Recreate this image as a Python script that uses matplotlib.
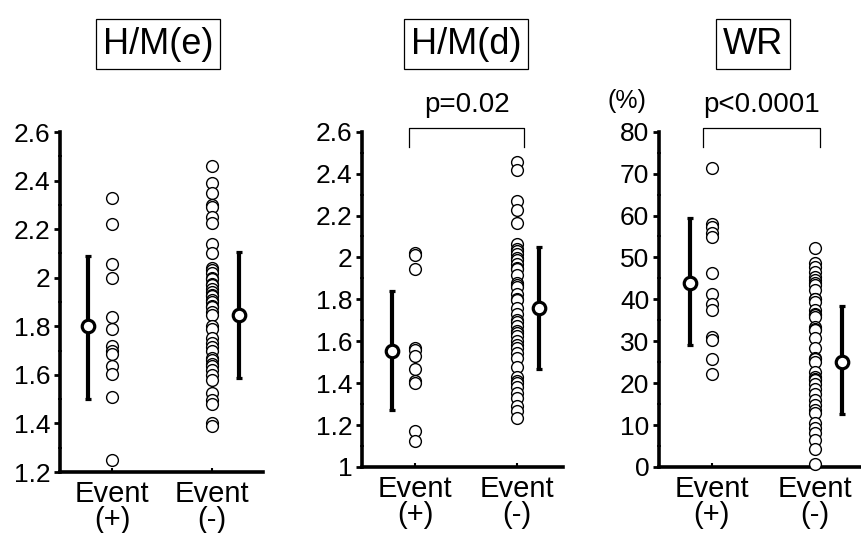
import matplotlib
matplotlib.use("Agg")
import matplotlib.pyplot as plt
from matplotlib.ticker import MultipleLocator

plt.rcParams['font.family'] = ['Liberation Sans', 'DejaVu Sans']

# ---------------- data ----------------
groups = ["Event\n(+)", "Event\n(-)"]
titles = ["H/M(e)", "H/M(d)", "WR"]

hme_pos = [2.33, 2.22, 2.055, 2.0, 1.84, 1.79, 1.72, 1.70, 1.685, 1.635, 1.605, 1.51, 1.25]
hme_neg = [2.46, 2.39, 2.35, 2.30, 2.29, 2.25, 2.225, 2.14, 2.10, 2.04, 2.03, 2.02, 2.0, 1.995,
           1.975, 1.97, 1.955, 1.94, 1.93, 1.925, 1.91, 1.90, 1.885, 1.88, 1.86, 1.845, 1.80,
           1.79, 1.75, 1.73, 1.715, 1.70, 1.67, 1.66, 1.645, 1.635, 1.62, 1.60, 1.58, 1.525,
           1.495, 1.48, 1.40, 1.39]
hme_mean = [1.80, 1.845]
hme_sd_lo = [1.50, 1.585]
hme_sd_hi = [2.09, 2.105]

hmd_pos = [2.02, 2.013, 1.946, 1.57, 1.56, 1.53, 1.47, 1.41, 1.40, 1.17, 1.125]
hmd_neg = [2.455, 2.415, 2.27, 2.225, 2.165, 2.065, 2.04, 2.03, 2.017, 1.995, 1.99, 1.97,
           1.95, 1.945, 1.915, 1.88, 1.87, 1.86, 1.825, 1.80, 1.795, 1.76, 1.73, 1.70, 1.69,
           1.675, 1.65, 1.64, 1.625, 1.60, 1.58, 1.57, 1.545, 1.52, 1.475, 1.43, 1.41, 1.40,
           1.38, 1.355, 1.33, 1.29, 1.265, 1.235]
hmd_mean = [1.555, 1.76]
hmd_sd_lo = [1.27, 1.47]
hmd_sd_hi = [1.84, 2.05]

wr_pos = [71.3, 58.0, 57.2, 55.9, 54.9, 46.4, 41.2, 38.9, 37.4, 31.1, 30.3, 25.7, 22.2]
wr_neg = [52.2, 48.7, 47.8, 46.6, 45.4, 44.6, 44.0, 43.4, 42.2, 40.2, 40.0, 39.4, 37.4, 36.5,
          36.2, 35.8, 33.5, 33.0, 32.7, 30.7, 28.3, 26.0, 25.7, 25.1, 22.7, 21.5, 21.0, 20.7,
          19.9, 18.7, 17.5, 15.9, 14.8, 13.6, 13.0, 10.4, 9.2, 8.0, 6.4, 4.4, 0.7]
wr_mean = [44.0, 25.1]
wr_sd_lo = [29.2, 12.6]
wr_sd_hi = [59.3, 38.5]

p_texts = [None, "p=0.02", "p<0.0001"]

yticks_list = [[1.2, 1.4, 1.6, 1.8, 2.0, 2.2, 2.4, 2.6],
               [1.0, 1.2, 1.4, 1.6, 1.8, 2.0, 2.2, 2.4, 2.6],
               [0, 10, 20, 30, 40, 50, 60, 70, 80]]
ytick_labels = [["1.2", "1.4", "1.6", "1.8", "2", "2.2", "2.4", "2.6"],
                ["1", "1.2", "1.4", "1.6", "1.8", "2", "2.2", "2.4", "2.6"],
                ["0", "10", "20", "30", "40", "50", "60", "70", "80"]]

panels = [
    (hme_pos, hme_neg, hme_mean, hme_sd_lo, hme_sd_hi),
    (hmd_pos, hmd_neg, hmd_mean, hmd_sd_lo, hmd_sd_hi),
    (wr_pos, wr_neg, wr_mean, wr_sd_lo, wr_sd_hi),
]

# ---------------- layout ----------------
W, H = 862, 533
fig = plt.figure(figsize=(W / 100, H / 100), dpi=100)

# pixel boxes (left, right, bottom_y, top_y) in image coordinates
ax_px = [(60, 263, 472, 132), (362, 563, 467, 131.7), (659, 866, 467, 131.7)]
xlims = [(0.48, 2.51), (0.48, 2.45), (0.485, 2.5)]
mean_off = [(-0.24, 0.27), (-0.23, 0.21), (-0.215, 0.27)]
minor_steps = [0.1, 0.1, 5]
title_centers = [158, 466, 753]
bracket_x = [None, (-0.06, 0.07), (-0.09, 0.05)]

for i, (pos, neg, mean, lo, hi) in enumerate(panels):
    l, r, b, t = ax_px[i]
    ax = fig.add_axes([l / W, (H - b) / H, (r - l) / W, (b - t) / H])
    yt = yticks_list[i]
    ax.set_ylim(yt[0], yt[-1])
    ax.set_xlim(*xlims[i])

    ax.scatter([1] * len(pos), pos, s=72, facecolors='white', edgecolors='black',
               linewidths=1.0, zorder=3, clip_on=False)
    ax.scatter([2] * len(neg), neg, s=72, facecolors='white', edgecolors='black',
               linewidths=1.0, zorder=3, clip_on=False)

    for g in range(2):
        xm = g + 1 + mean_off[i][g]
        ax.errorbar([xm], [mean[g]], yerr=[[mean[g] - lo[g]], [hi[g] - mean[g]]],
                    fmt='o', ms=9, mfc='white', mec='black', mew=2.3,
                    ecolor='black', elinewidth=3.0, capsize=2.5, capthick=3.0, zorder=4)

    for s in ['top', 'right']:
        ax.spines[s].set_visible(False)
    for s in ['left', 'bottom']:
        ax.spines[s].set_linewidth(2.6)

    ax.set_yticks(yt)
    ax.set_yticklabels(ytick_labels[i], fontsize=19)
    ax.yaxis.set_minor_locator(MultipleLocator(minor_steps[i]))
    ax.tick_params(axis='y', which='major', direction='out', length=4, width=2, pad=3)
    ax.tick_params(axis='y', which='minor', direction='inout', length=3, width=1.2)
    ax.set_xticks([1, 2])
    ax.set_xticklabels(groups, fontsize=21, linespacing=0.9)
    ax.tick_params(axis='x', direction='in', length=3, width=1.5, pad=6)

    # title box
    fig.text(title_centers[i] / W, (H - 44) / H, titles[i], fontsize=26,
             ha='center', va='center',
             bbox=dict(boxstyle='square,pad=0.2', fc='white', ec='black', lw=0.9))

    if p_texts[i]:
        y0, y1 = yt[0], yt[-1]
        span = y1 - y0
        bx0 = 1 + bracket_x[i][0]
        bx1 = 2 + bracket_x[i][1]
        ytop = y1 + 0.011 * span
        ybot = y1 - 0.045 * span
        ax.plot([bx0, bx0, bx1, bx1], [ybot, ytop, ytop, ybot], color='black',
                lw=0.9, clip_on=False)
        ax.text((bx0 + bx1) / 2, y1 + 0.04 * span, p_texts[i], fontsize=20,
                ha='center', va='bottom')

# percent label for WR panel
fig.text(627 / W, (H - 101) / H, "(%)", fontsize=18, ha='center', va='center')

fig.savefig("out.png", dpi=100)
